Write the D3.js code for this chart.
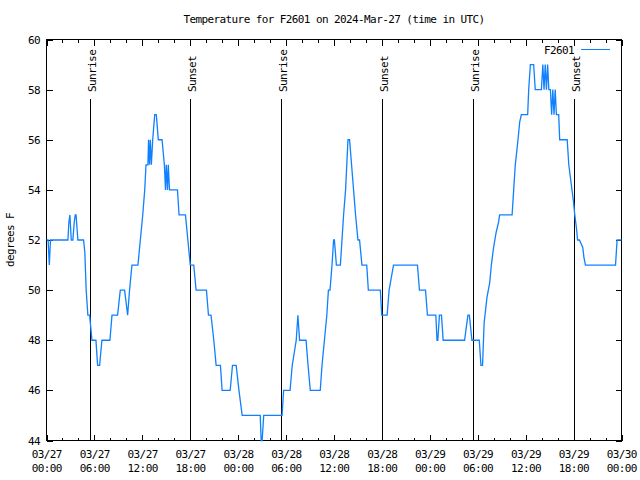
<!DOCTYPE html>
<html>
<head>
<meta charset="utf-8">
<script src="https://cdn.jsdelivr.net/npm/d3@7"></script>
<style>
  html, body { margin: 0; padding: 0; background: #fff; }
  svg { display: block; }
  text { font-family: "DejaVu Sans Mono", "Liberation Mono", monospace; font-size: 11px; letter-spacing: -0.6px; fill: #000; }
</style>
</head>
<body>
<div id="chart"></div>
<script>
// ---- Data (hours since 2024-03-27 00:00 UTC, temperature in °F) ----
const chartTitle = "Temperature for F2601 on 2024-Mar-27 (time in UTC)";
const yAxisLabel = "degrees F";
const seriesName = "F2601";
const startTime = "2024-03-27T00:00:00Z";
const endTime = "2024-03-30T00:00:00Z";

const obsHours = [
  0, 0.2, 0.35, 0.5, 2.68, 2.8, 2.93, 3.1, 3.3, 3.47, 3.6, 3.7, 3.93, 4.64, 4.8, 4.97, 5.18, 5.4, 5.69, 6.19,
  6.4, 6.65, 6.94, 7.94, 8.2, 8.9, 9.24, 9.78, 10.16, 10.4, 10.7, 11.45, 11.75, 12.05, 12.3, 12.46, 12.7, 12.78, 12.9, 13.0,
  13.13, 13.3, 13.55, 13.75, 14.0, 14.47, 14.76, 14.9, 15.0, 15.15, 15.25, 15.4, 16.4, 16.6, 17.4, 17.7, 18.0, 18.44, 18.73, 20.03,
  20.28, 20.6, 20.95, 21.24, 21.78, 21.99, 23.0, 23.29, 23.75, 24.1, 24.5,
  26.76, 26.88, 27.0, 27.2, 29.5, 29.69, 30.5, 30.77, 31.27, 31.48, 31.69, 32.5, 32.75, 33.03, 34.28, 34.5, 34.8, 35.1, 35.3, 35.5,
  35.75, 35.95, 36.05, 36.3, 36.8, 37.0, 37.2, 37.45, 37.75, 37.95, 38.2, 38.45, 38.7, 39.0, 39.2, 39.5, 40.1, 40.3, 41.8, 41.98,
  42.65, 42.9, 43.45, 46.45, 46.7, 47.46, 47.7, 48.75, 48.9, 49.0, 49.2, 49.46, 49.67, 52.35, 52.77, 52.95, 53.27, 54.19, 54.4, 54.6,
  54.8, 55.15, 55.5, 55.7, 55.98, 56.3, 56.6, 56.74, 58.3,
  58.5, 58.7, 59.04, 59.25, 59.46, 60.25, 60.38, 60.59, 61.0, 61.2, 61.97, 62.15, 62.3, 62.45, 62.6, 62.75, 62.9, 63.1, 63.25, 63.4,
  63.55, 63.7, 63.85, 64.14, 64.26, 65.2, 65.4, 65.8, 66.0, 66.15, 66.35, 66.5, 66.73, 67.15, 67.3, 67.49, 71.25, 71.45, 72
];
const obsTempF = [
  52, 52, 51, 52, 52, 52.7, 53, 52, 52, 52.7, 53, 53, 52, 52, 51.5, 50, 49, 49, 48, 48,
  47, 47, 48, 48, 49, 49, 50, 50, 49, 50, 51, 51, 52, 53, 54, 55, 55, 56, 55, 56,
  55, 56, 57, 57, 56, 56, 55, 54, 55, 54, 55, 54, 54, 53, 53, 52, 51, 51, 50, 50,
  49, 49, 48, 47, 47, 46, 46, 47, 47, 46, 45,
  45, 44, 44, 45, 45, 46, 46, 47, 48, 49, 48, 48, 47, 46, 46, 47, 48, 49, 50, 50,
  51, 52, 52, 51, 51, 52, 53, 54, 56, 56, 55, 54, 53, 52, 52, 51, 51, 50, 50, 49,
  49, 50, 51, 51, 50, 50, 49, 49, 48, 48, 49, 49, 48, 48, 49, 49, 48, 48, 47, 47,
  48.7, 49.7, 50.3, 51, 51.7, 52.3, 52.7, 53, 53,
  54, 55, 56, 56.7, 57, 57, 58, 59, 59, 58, 58, 59, 58, 59, 58, 59, 58, 58, 57, 58,
  57, 58, 57, 57, 56, 56, 55, 54, 53.5, 53, 52.5, 52, 52, 51.7, 51.3, 51, 51, 52, 52
];

const sunLabels = ["Sunrise", "Sunset", "Sunrise", "Sunset", "Sunrise", "Sunset"];
const sunHours = [5.43, 17.98, 29.4, 42.05, 53.45, 66.08];

const yDomain = [44, 60];
const yTickValues = [44, 46, 48, 50, 52, 54, 56, 58, 60];
const xMajorStepHours = 6;
const xMinorStepHours = 2;

// ---- Layout ----
const W = 640, H = 480;
const pLeft = 46.5, pRight = 621.5, pTop = 39.5, pBottom = 440.5;
const lineColor = "#0f80ff";

const t0 = new Date(startTime);
const hToDate = h => new Date(t0.getTime() + h * 3600 * 1000);
const data = obsHours.map((h, i) => ({ t: hToDate(h), v: obsTempF[i] }));

const svg = d3.select("#chart").append("svg").attr("width", W).attr("height", H);

const x = d3.scaleUtc().domain([new Date(startTime), new Date(endTime)]).range([pLeft, pRight]);
const y = d3.scaleLinear().domain(yDomain).range([pBottom, pTop]);

// Title
svg.append("text").attr("x", (pLeft + pRight) / 2).attr("y", 23)
  .attr("text-anchor", "middle").text(chartTitle);

// Y label
svg.append("text").attr("transform", `translate(14,${(pTop + pBottom) / 2}) rotate(-90)`)
  .attr("text-anchor", "middle").text(yAxisLabel);

const g = svg.append("g").attr("shape-rendering", "crispEdges");

// Ticks
const endPlus = new Date(x.domain()[1].getTime() + 1);
const majorTicks = d3.utcHour.every(xMajorStepHours).range(x.domain()[0], endPlus);
const minorTicks = d3.utcHour.every(xMinorStepHours).range(x.domain()[0], endPlus)
  .filter(d => d.getUTCHours() % xMajorStepHours !== 0);

const xAxisB = d3.axisBottom(x).tickValues(majorTicks).tickSize(-6).tickFormat("");
const xAxisBm = d3.axisBottom(x).tickValues(minorTicks).tickSize(-3).tickFormat("");
const xAxisT = d3.axisTop(x).tickValues(majorTicks).tickSize(-6).tickFormat("");
const xAxisTm = d3.axisTop(x).tickValues(minorTicks).tickSize(-3).tickFormat("");
const yAxisL = d3.axisLeft(y).tickValues(yTickValues).tickSize(-6).tickFormat("");
const yAxisR = d3.axisRight(y).tickValues(yTickValues).tickSize(-6).tickFormat("");

function styleAxis(sel) {
  sel.select(".domain").remove();
  sel.selectAll("line").attr("stroke", "#000").attr("stroke-width", 1);
}
g.append("g").attr("transform", `translate(0,${pBottom})`).call(xAxisB).call(styleAxis);
g.append("g").attr("transform", `translate(0,${pBottom})`).call(xAxisBm).call(styleAxis);
g.append("g").attr("transform", `translate(0,${pTop})`).call(xAxisT).call(styleAxis);
g.append("g").attr("transform", `translate(0,${pTop})`).call(xAxisTm).call(styleAxis);
g.append("g").attr("transform", `translate(${pLeft},0)`).call(yAxisL).call(styleAxis);
g.append("g").attr("transform", `translate(${pRight},0)`).call(yAxisR).call(styleAxis);

// tick labels
const fmtD = d3.utcFormat("%m/%d"), fmtT = d3.utcFormat("%H:%M");
const xl = svg.append("g");
majorTicks.forEach(d => {
  const t = xl.append("text").attr("x", x(d) + 0.3).attr("text-anchor", "middle");
  t.append("tspan").attr("x", x(d) + 0.3).attr("y", 458).text(fmtD(d));
  t.append("tspan").attr("x", x(d) + 0.3).attr("y", 472).text(fmtT(d));
});
yTickValues.forEach(v => {
  svg.append("text").attr("x", 40).attr("y", y(v) + 4).attr("text-anchor", "end").text(v);
});

// sunrise / sunset
sunHours.forEach((h, i) => {
  const sx = Math.round(x(hToDate(h))) + 0.5;
  g.append("line").attr("x1", sx).attr("x2", sx).attr("y1", 99).attr("y2", pBottom)
    .attr("stroke", "#000").attr("stroke-width", 1);
  svg.append("text").attr("transform", `translate(${sx + 5.3},92) rotate(-90)`)
    .attr("text-anchor", "start").text(sunLabels[i]);
});

// data line
const line = d3.line().x(d => x(d.t)).y(d => y(d.v));
svg.append("path").datum(data).attr("d", line)
  .attr("fill", "none").attr("stroke", lineColor).attr("stroke-width", 1.3)
  .attr("stroke-linejoin", "miter");

// frame
g.append("rect").attr("x", pLeft).attr("y", pTop).attr("width", pRight - pLeft).attr("height", pBottom - pTop)
  .attr("fill", "none").attr("stroke", "#000").attr("stroke-width", 1);

// legend
svg.append("text").attr("x", 574).attr("y", 54).attr("text-anchor", "end").text(seriesName);
g.append("line").attr("x1", 581).attr("x2", 610).attr("y1", 49.5).attr("y2", 49.5)
  .attr("stroke", lineColor).attr("stroke-width", 1);
</script>
</body>
</html>
